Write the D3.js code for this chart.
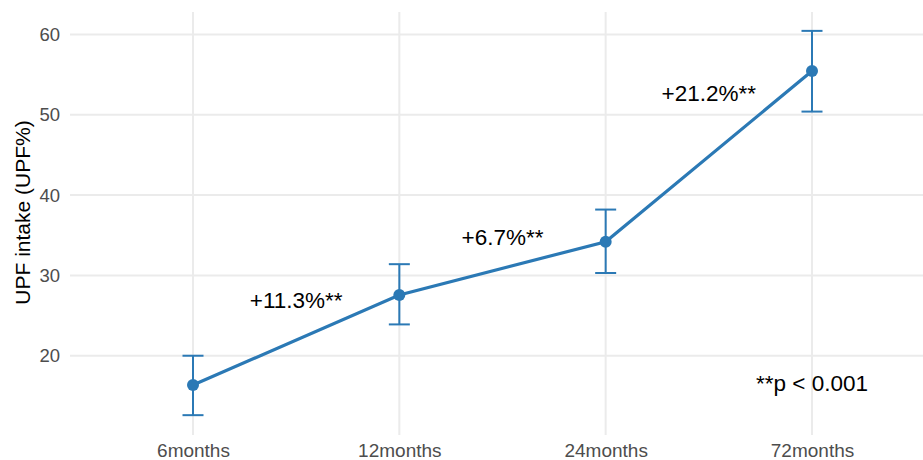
<!DOCTYPE html>
<html>
<head>
<meta charset="utf-8">
<script src="https://cdn.jsdelivr.net/npm/d3@7"></script>
<style>
  html, body { margin: 0; padding: 0; background: #ffffff; }
  svg { display: block; font-family: "Liberation Sans", Arial, Helvetica, sans-serif; }
</style>
</head>
<body>
<svg id="chart" width="923" height="460"></svg>
<script>
// Follow-up time points
const timepoints = ["6months", "12months", "24months", "72months"];
// Mean UPF intake (% of energy) with 95% CI bounds
const meanUPF = [16.35, 27.56, 34.2, 55.45];
const lowerCI = [12.6, 23.9, 30.3, 50.4];
const upperCI = [20.0, 31.4, 38.2, 60.45];
// Change annotations between consecutive time points
const changeLabels = ["+11.3%**", "+6.7%**", "+21.2%**"];
const changeLabelY = [26.9, 34.8, 52.75];
// Y-axis ticks
const yTicks = [20, 30, 40, 50, 60];
const noteText = "**p < 0.001";
const noteY = 16.6;

const svg = d3.select("#chart");
const W = 923, H = 460;
const panel = { left: 69.2, right: 935.8, top: 12, bottom: 435 };
const blue = "#2b79b5";
const FONT = "Liberation Sans, Arial, sans-serif";

const x = d3.scalePoint()
  .domain(timepoints)
  .range([panel.left, panel.right])
  .padding(0.6);

const y = d3.scaleLinear()
  .domain([10.13, 62.8])
  .range([panel.bottom, panel.top]);

// Grid lines
const grid = svg.append("g");
grid.selectAll("line.h")
  .data(yTicks)
  .join("line")
  .attr("x1", 70).attr("x2", W)
  .attr("y1", d => y(d)).attr("y2", d => y(d))
  .attr("stroke", "#ebebeb").attr("stroke-width", 2);
grid.selectAll("line.v")
  .data(timepoints)
  .join("line")
  .attr("x1", d => x(d)).attr("x2", d => x(d))
  .attr("y1", panel.top).attr("y2", panel.bottom)
  .attr("stroke", "#ebebeb").attr("stroke-width", 2);

// Y axis (labels only)
const yAxis = d3.axisLeft(y).tickValues(yTicks).tickSize(0).tickPadding(0);
const gy = svg.append("g").attr("transform", "translate(60,0)").call(yAxis);
gy.select(".domain").remove();
gy.selectAll("text")
  .attr("font-size", "18.5px")
  .attr("fill", "#4d4d4d")
  .attr("font-family", FONT);

// X axis (labels only)
const xAxis = d3.axisBottom(x).tickSize(0).tickPadding(0);
const gx = svg.append("g").attr("transform", "translate(0,443.5)").call(xAxis);
gx.select(".domain").remove();
gx.selectAll("text")
  .attr("font-size", "19px")
  .attr("fill", "#4d4d4d")
  .attr("font-family", FONT);

// Y-axis title
svg.append("text")
  .attr("transform", "translate(30,212.5) rotate(-90)")
  .attr("text-anchor", "middle")
  .attr("font-size", "21px")
  .attr("fill", "#000")
  .text("UPF intake (UPF%)");

const data = timepoints.map((t, i) => ({ t, m: meanUPF[i], lo: lowerCI[i], hi: upperCI[i] }));

// Error bars
const eb = svg.append("g").attr("stroke", blue).attr("stroke-width", 2);
eb.selectAll("line.stem")
  .data(data)
  .join("line")
  .attr("x1", d => x(d.t)).attr("x2", d => x(d.t))
  .attr("y1", d => y(d.lo)).attr("y2", d => y(d.hi));
eb.selectAll("line.capTop")
  .data(data)
  .join("line")
  .attr("x1", d => x(d.t) - 10.5).attr("x2", d => x(d.t) + 10.5)
  .attr("y1", d => y(d.hi)).attr("y2", d => y(d.hi));
eb.selectAll("line.capBot")
  .data(data)
  .join("line")
  .attr("x1", d => x(d.t) - 10.5).attr("x2", d => x(d.t) + 10.5)
  .attr("y1", d => y(d.lo)).attr("y2", d => y(d.lo));

// Trend line
const line = d3.line().x(d => x(d.t)).y(d => y(d.m));
svg.append("path")
  .datum(data)
  .attr("d", line)
  .attr("fill", "none")
  .attr("stroke", blue)
  .attr("stroke-width", 3.2);

// Points
svg.append("g").selectAll("circle")
  .data(data)
  .join("circle")
  .attr("cx", d => x(d.t))
  .attr("cy", d => y(d.m))
  .attr("r", 6)
  .attr("fill", blue);

// Change annotations at segment midpoints
svg.append("g").selectAll("text")
  .data(changeLabels)
  .join("text")
  .attr("x", (d, i) => (x(timepoints[i]) + x(timepoints[i + 1])) / 2)
  .attr("y", (d, i) => y(changeLabelY[i]))
  .attr("dy", "0.36em")
  .attr("text-anchor", "middle")
  .attr("font-size", "22.5px")
  .attr("fill", "#000")
  .text(d => d);

// Significance note
svg.append("text")
  .attr("x", x(timepoints[3]))
  .attr("y", y(noteY))
  .attr("dy", "0.36em")
  .attr("text-anchor", "middle")
  .attr("font-size", "22.5px")
  .attr("fill", "#000")
  .text(noteText);
</script>
</body>
</html>
